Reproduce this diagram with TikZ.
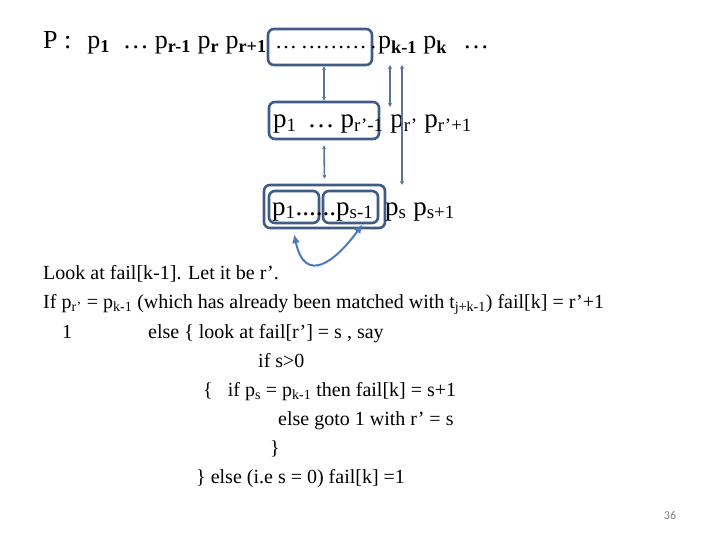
\documentclass[tikz,border=0pt]{standalone}
\usepackage{fontspec}
\setmainfont{Liberation Serif}
\newfontfamily\slidenum{Carlito}
\usetikzlibrary{arrows.meta}
\definecolor{boxblue}{HTML}{3E5C86}
\definecolor{lineblue}{HTML}{56769E}
\definecolor{loopblue}{HTML}{4A7BBE}

\begin{document}
\begin{tikzpicture}[x=1pt,y=-1pt,
    patbox/.style={draw=boxblue, line width=2.6pt, rounded corners=6pt, inner sep=0pt},
    matchline/.style={draw=lineblue, line width=1.6pt,
        {Stealth[length=4pt,width=4pt]}-{Stealth[length=4pt,width=4pt]}},
    loopline/.style={draw=loopblue, line width=2pt,
        {Latex[length=9pt,width=8pt]}-{Latex[length=9pt,width=8pt]}},
    code/.style={anchor=base west, font=\fontsize{20}{23}\selectfont, inner sep=0pt}]
        \useasboundingbox (0,0) rectangle (720,540);

        % Muster P
        \node[anchor=base west, font=\fontsize{26}{30}\selectfont, inner sep=0pt] (rowP) at (43,49)
            {P :\hspace{16pt}p\textsubscript{\textbf{1}}\hspace{13pt}…\hspace{6pt}p\textsubscript{\textbf{r-1}} p\textsubscript{\textbf{r}} p\textsubscript{\textbf{r+1}}};
        \node[patbox, minimum width=104, minimum height=36] (dots) at (320,47) {};
        \node[anchor=base west, font=\fontsize{22}{26}\selectfont, inner sep=0pt] (dottext) at (275,49) {…\,………\,.};
        \node[anchor=base west, font=\fontsize{26}{30}\selectfont, inner sep=0pt] (pk) at (378,49)
            {p\textsubscript{\textbf{k-1}} p\textsubscript{\textbf{k}}\hspace{16pt}…};

        % Praefix bis r'
        \node[patbox, minimum width=110, minimum height=37] (pre) at (324,120.5) {};
        \node[anchor=base west, font=\fontsize{27}{30}\selectfont, inner sep=0pt] (rowR) at (273,128)
            {p\textsubscript{1}\hspace{11pt}…\hspace{6pt}p\textsubscript{r’-1} p\textsubscript{r’} p\textsubscript{r’+1}};

        % Praefix bis s
        \node[patbox, minimum width=121, minimum height=43] (outer) at (324.5,206.5) {};
        \node[patbox, minimum width=50, minimum height=32] (inA) at (294,207) {};
        \node[patbox, minimum width=55, minimum height=32] (inB) at (350.5,207) {};
        \node[anchor=base west, font=\fontsize{27}{30}\selectfont, inner sep=0pt] (rowS) at (272,215)
            {p\textsubscript{1}......p\textsubscript{s-1}};
        \node[anchor=base west, font=\fontsize{27}{30}\selectfont, inner sep=0pt] (rowS2) at (385,215)
            {p\textsubscript{s} p\textsubscript{s+1}};

        % Verbindungen
        \coordinate (kaTop) at (390,65);
        \coordinate (kaBot) at (390,107);
        \coordinate (kbTop) at (402,65);
        \coordinate (kbBot) at (402,185);
        \draw[matchline] (pre.north |- dots.south) -- (pre.north);
        \draw[matchline, shorten <=5pt, shorten >=5pt] (pre.south) -- (outer.north);
        \draw[matchline] (kaTop) -- (kaBot);
        \draw[matchline] (kbTop) -- (kbBot);
        \draw[loopline, shorten <=10pt] ([xshift=-2pt]inA.south) .. controls (305,285) and (335,262) .. ([xshift=12pt]inB.south);

        % Algorithmus
        \node[code] (c1) at (43,279) {Look at fail[k-1]. Let it be r’.};
        \node[code] (c2) at (43,308) {If p\textsubscript{r’} = p\textsubscript{k-1} (which has already been matched with t\textsubscript{j+k-1}) fail[k] = r’+1};
        \node[code] (c3) at (62,338) {1};
        \node[code] (c4) at (148,338) {else \{ look at fail[r’] = s , say};
        \node[code] (c5) at (258,367) {if s>0};
        \node[code] (c6) at (203,396) {\{\ \ \ if p\textsubscript{s} = p\textsubscript{k-1} then fail[k] = s+1};
        \node[code] (c7) at (278,425) {else goto 1 with r’ = s};
        \node[code] (c8) at (270,454) {\}};
        \node[code] (c9) at (196,483) {\} else (i.e s = 0) fail[k] =1};

        \node[font=\slidenum\fontsize{12}{14}\selectfont, text=gray] (num) at (670,515) {36};
\end{tikzpicture}
\end{document}
